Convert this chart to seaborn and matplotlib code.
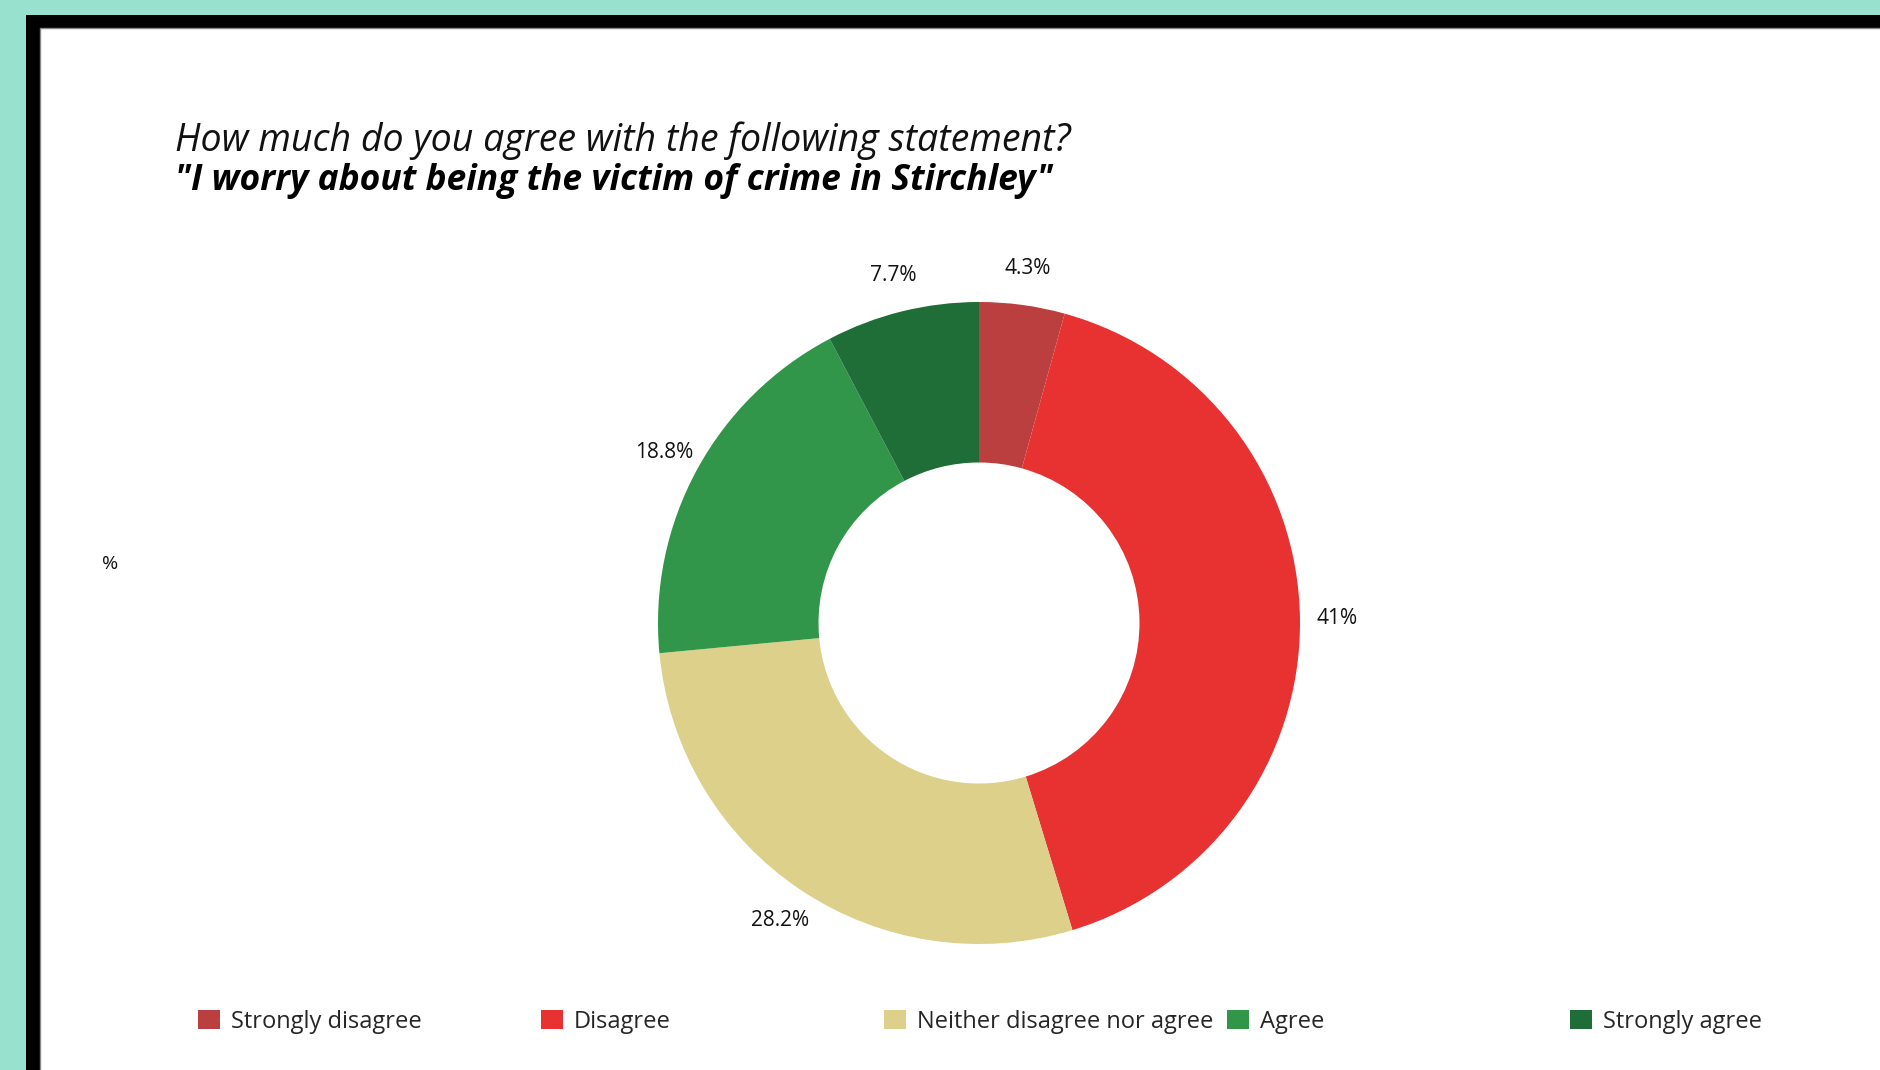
import matplotlib.pyplot as plt
import matplotlib.patches as mpatches
import seaborn as sns

### DATA ###
categories = ['Strongly disagree', 'Disagree', 'Neither disagree nor agree', 'Agree', 'Strongly agree']
shares = [4.3, 41.0, 28.2, 18.8, 7.7]
colors = ['#bc3f3f', '#e83232', '#ddd08a', '#31964a', '#1f6e37']
title_line1 = 'How much do you agree with the following statement?'
title_line2 = '"I worry about being the victim of crime in Stirchley"'

sns.set_theme(style='white')
plt.rcParams['font.family'] = ['Open Sans', 'DejaVu Sans']

W, H = 1880, 1070
fig = plt.figure(figsize=(W / 100, H / 100), dpi=100)
fig.patch.set_facecolor('#99e1cf')

# black frame + white card
fig.patches.append(mpatches.Rectangle((26 / W, -0.05), 1, 1.05 - 15 / H, transform=fig.transFigure,
                                      facecolor='black', edgecolor='none', zorder=-2))
fig.patches.append(mpatches.Rectangle((40 / W, -0.05), 1, 1.05 - 28 / H, transform=fig.transFigure,
                                      facecolor='white', edgecolor='#888888', lw=1, zorder=-1))

# donut
cx, cy, r = 979, 623, 321
ax = fig.add_axes([(cx - r) / W, (H - cy - r) / H, 2 * r / W, 2 * r / H])
ax.set_facecolor('none')

def fmt(p):
  s = f'{p:.1f}'
  if s.endswith('.0'):
    s = s[:-2]
  return s + '%'

wedges, texts, autotexts = ax.pie(shares, colors=colors, startangle=90, counterclock=False,
                                  radius=1, autopct=fmt, pctdistance=1.115,
                                  wedgeprops=dict(width=0.5, edgecolor='none'),
                                  textprops=dict(fontsize=15, color='#111111'))
ax.set_xlim(-1, 1)
ax.set_ylim(-1, 1)
ax.set_aspect('equal')
ax.axis('off')

# titles
fig.text(175 / W, 1 - 141 / H, title_line1, fontsize=27, style='italic', va='center', ha='left', color='#111111')
fig.text(175 / W, 1 - 181 / H, title_line2, fontsize=25.5, style='italic', weight='bold', va='center', ha='left', color='black')

fig.text(110 / W, 1 - 564 / H, '%', fontsize=14, ha='center', va='center', color='#111111')

# legend, one fixed-width slot per item
slot_x = [198, 541, 884, 1227, 1570]
for name, col, x in zip(categories, colors, slot_x):
  h = mpatches.Patch(facecolor=col, edgecolor='none', label=name)
  fig.legend(handles=[h], loc='center left', bbox_to_anchor=(x / W, 1 - 1022 / H),
             frameon=False, borderpad=0, borderaxespad=0, fontsize=17,
             handlelength=0.95, handleheight=0.85, handletextpad=0.45)

fig.savefig('out.png', dpi=100)
